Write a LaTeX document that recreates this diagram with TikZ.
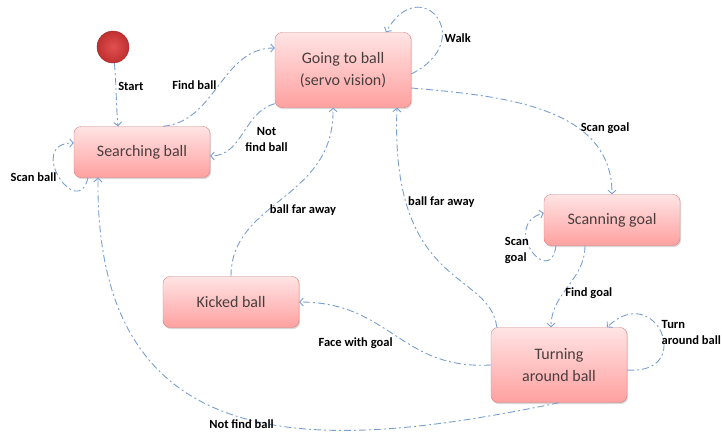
\documentclass[tikz,border=0pt]{standalone}
\usepackage{fontspec}
\setmainfont{Carlito}
\usepackage{tikz}
\usetikzlibrary{arrows.meta, positioning, shadows}
\definecolor{linkblue}{RGB}{122,158,208}
\definecolor{stateborder}{RGB}{212,128,128}
\definecolor{statetop}{RGB}{255,228,228}
\definecolor{statebottom}{RGB}{255,160,160}
\definecolor{statetext}{RGB}{72,62,62}
\definecolor{balllight}{RGB}{226,80,80}
\definecolor{balldark}{RGB}{192,48,48}
\tikzset{
  state box/.style={draw=stateborder, rounded corners=7pt, top color=statetop,
    bottom color=statebottom, minimum width=136pt, minimum height=51pt,
    align=center, text=statetext, font=\fontsize{16}{22}\selectfont,
    drop shadow={opacity=0.3, shadow xshift=1pt, shadow yshift=-1.5pt}},
  tall/.style={minimum height=75pt},
  init state/.style={circle, minimum size=32pt, inner sep=0pt, draw=balldark!80!black,
    inner color=balllight, outer color=balldark},
  trans/.style={draw=linkblue, line width=0.9pt,
    dash pattern=on 7pt off 3pt on 2pt off 3pt,
    -{Straight Barb[length=3.5pt,width=8pt]}},
  lbl/.style={font=\bfseries\fontsize{12.5}{16}\selectfont, text=black, inner sep=2pt}
}

\begin{document}
\begin{tikzpicture}[on grid, x=1pt, y=1pt]
\useasboundingbox (0,0) rectangle (722,-434);
\node[state box] (searching) at (142,-152) {Searching ball};
\node[init state, above left=105pt and 29pt of searching] (init) {};
\node[state box, tall, above right=82pt and 201pt of searching] (going) {Going to ball\\(servo vision)};
\node[state box, below right=150pt and 269pt of going] (scanning) {Scanning goal};
\node[state box, tall, below left=145pt and 53pt of scanning] (turning) {Turning\\around ball};
\node[state box, below right=150pt and 89pt of searching] (kicked) {Kicked ball};

\draw[trans] (init) to[out=-85, in=95] node[lbl, right, pos=.35] {Start} ([xshift=-24pt]searching.north);
\draw[trans] ([xshift=21pt]searching.north) to[out=5, in=180] node[lbl, left] {Find ball} ([yshift=22pt]going.west);
\draw[trans] ([yshift=4pt]going.south west) to[out=195, in=0] node[lbl, right, align=center, yshift=-6pt] {Not\\find ball} ([yshift=-4pt]searching.east);
\draw[trans] ([xshift=-54pt]searching.south) .. controls (78,-222) and (25,-143) .. node[lbl, left] {Scan ball} ([yshift=9pt]searching.west);

\draw[trans] ([yshift=-4pt]going.east) .. controls +(68,34) and +(34,62) .. node[lbl, right, pos=.3] {Walk} ([xshift=43pt]going.north);
\draw[trans] ([yshift=-18pt]going.east) to[out=-5, in=90] node[lbl, anchor=west, pos=.66] {Scan goal} (scanning.north);

\draw[trans] ([xshift=-56pt]scanning.south) .. controls (550,-290) and (500,-225) .. node[lbl, left, align=left] {Scan\\goal} ([yshift=7pt]scanning.west);
\draw[trans] ([xshift=-27pt]scanning.south) to[out=-90, in=90] node[lbl, right, pos=.6] {Find goal} ([xshift=-8pt]turning.north);

\draw[trans] ([yshift=-5pt]turning.east) .. controls (696,-375) and (656,-280) .. node[lbl, right, align=left, xshift=-2pt] {Turn\\around ball} ([xshift=48pt]turning.north);
\draw[trans] ([xshift=6pt]turning.north west) .. controls (490,-270) and (390,-290) .. node[lbl, right, pos=.78] {ball far away} ([xshift=54pt]going.south);
\draw[trans] (turning.west) .. controls (400,-370) and (390,-302) .. node[lbl, below left] {Face with goal} (kicked.east);
\draw[trans] (turning.south) .. controls (330,-450) and (95,-470) .. node[lbl, below] {Not find ball} ([xshift=-44pt]searching.south);

\draw[trans] (kicked.north) .. controls (231,-200) and (335,-200) .. node[lbl, right, pos=.4] {ball far away} ([xshift=-10pt]going.south);
\end{tikzpicture}
\end{document}
